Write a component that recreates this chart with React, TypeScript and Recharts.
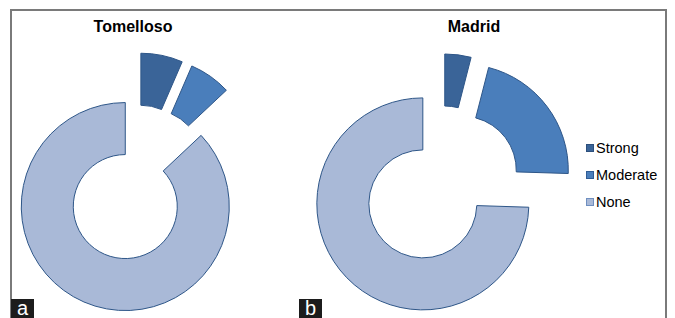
import React from "react";
import { PieChart, Pie, Cell } from "recharts";

// categories and shares (percent) for each city
const categories = ["Strong", "Moderate", "None"];
const tomellosoValues = [6.5, 6.5, 87];
const madridValues = [4, 21.5, 74.5];
const cityTitles = ["Tomelloso", "Madrid"];
const panelLetters = ["a", "b"];

const colors = ["#3a6498", "#4a7ebb", "#a9b9d7"];
const legendBorders = ["#2c4f7c", "#2f5c95", "#6f8fc0"];
const outline = "#2e5688";

const panels = [
  { cx: 135.6, cy: 182.7, inner: 52, outer: 104, explode: 26, titleX: 133, letterX: 11 },
  { cx: 441.5, cy: 185.8, inner: 54, outer: 106, explode: 26, titleX: 474, letterX: 299 },
];

const seriesList = [tomellosoValues, madridValues];

const font = "'Liberation Sans', Arial, sans-serif";

// each slice is drawn by its own Pie, shifted along its own bisector (exploded donut)
const explodedPies = (values: number[], p: any, pi: number) => {
  const rows = categories.map((name, i) => ({ name, value: values[i] }));
  const total = values.reduce((a, b) => a + b, 0);
  let cum = 0;
  return values.map((v, si) => {
    const mid = ((cum + v / 2) / total) * 2 * Math.PI;
    cum += v;
    const dx = p.explode * Math.sin(mid);
    const dy = -p.explode * Math.cos(mid);
    return (
      <Pie
        key={`${pi}-${si}`}
        data={rows}
        dataKey="value"
        nameKey="name"
        cx={p.cx + dx}
        cy={p.cy + dy}
        innerRadius={p.inner}
        outerRadius={p.outer}
        startAngle={90}
        endAngle={-270}
        isAnimationActive={false}
        stroke="none"
      >
        {rows.map((r, k) => (
          <Cell
            key={r.name}
            fill={k === si ? colors[k] : "transparent"}
            stroke={k === si ? outline : "none"}
            strokeWidth={1}
          />
        ))}
      </Pie>
    );
  });
};

const App = () => {
  return (
    <div
      style={{
        position: "absolute",
        left: 0,
        top: 0,
        width: 675,
        height: 318,
        overflow: "hidden",
        background: "#fff",
        fontFamily: font,
      }}
    >
      <div
        style={{
          position: "absolute",
          left: 10,
          top: 9,
          width: 657,
          height: 330,
          border: "2px solid #7a7a7a",
          boxSizing: "border-box",
        }}
      />
      <div style={{ position: "absolute", left: 0, top: 0 }}>
        <PieChart
          width={675}
          height={318}
          margin={{ top: 0, right: 0, bottom: 0, left: 0 }}
        >
          {panels.map((p, pi) => explodedPies(seriesList[pi], p, pi))}
        </PieChart>
      </div>
      {panels.map((p, pi) => (
        <div
          key={cityTitles[pi]}
          style={{
            position: "absolute",
            left: p.titleX - 70,
            width: 140,
            top: 18,
            textAlign: "center",
            fontWeight: "bold",
            fontSize: 16,
            lineHeight: "18px",
            color: "#000",
          }}
        >
          {cityTitles[pi]}
        </div>
      ))}
      {panels.map((p, pi) => (
        <div
          key={panelLetters[pi]}
          style={{
            position: "absolute",
            left: p.letterX,
            top: 299,
            width: 23,
            height: 19,
            background: "#1c1c1c",
            color: "#fff",
            fontSize: 20,
            lineHeight: "18px",
            textAlign: "center",
          }}
        >
          {panelLetters[pi]}
        </div>
      ))}
      <div style={{ position: "absolute", left: 586, top: 134.5 }}>
        {categories.map((c, i) => (
          <div
            key={c}
            style={{ display: "flex", alignItems: "center", height: 27 }}
          >
            <div
              style={{
                width: 8,
                height: 8,
                background: colors[i],
                border: `1px solid ${legendBorders[i]}`,
                boxSizing: "border-box",
                marginRight: 2,
              }}
            />
            <span style={{ fontSize: 14.5, color: "#000" }}>{c}</span>
          </div>
        ))}
      </div>
    </div>
  );
};

export default App;
